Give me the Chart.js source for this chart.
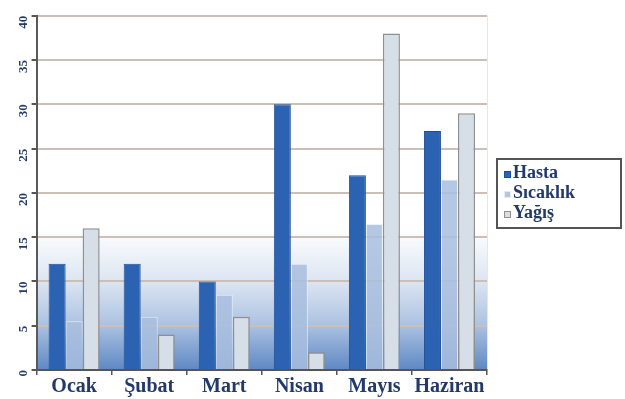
<!DOCTYPE html>
<html>
<head>
<meta charset="utf-8">
<script src="https://cdn.jsdelivr.net/npm/chart.js@4"></script>
<style>
  html, body { margin: 0; padding: 0; background: #fff; }
  #wrap { width: 625px; height: 399px; }
</style>
</head>
<body>
<div id="wrap"><canvas id="chart" width="625" height="399"></canvas></div>
<script>
// months on the x axis
var months = ['Ocak', 'Şubat', 'Mart', 'Nisan', 'Mayıs', 'Haziran'];
var seriesNames = ['Hasta', 'Sıcaklık', 'Yağış'];
// values
var hasta = [12, 12, 10, 30, 22, 27];
var sicaklik = [5.5, 6, 8.5, 12, 16.5, 21.5];
var yagis = [16, 4, 6, 2, 38, 29];
var yTicks = [0, 5, 10, 15, 20, 25, 30, 35, 40];

var navy = '#22396b';
var serif = '"Liberation Serif", "DejaVu Serif", serif';

// plot background gradient + thin frame
var backdrop = {
    id: 'backdrop',
    beforeDraw: function (chart) {
        var a = chart.chartArea, ctx = chart.ctx;
        var g = ctx.createLinearGradient(0, a.top, 0, a.bottom);
        g.addColorStop(0, '#ffffff');
        g.addColorStop(0.6, '#ffffff');
        g.addColorStop(0.75, '#dce5f2');
        g.addColorStop(0.87, '#adc3e2');
        g.addColorStop(1, '#5e88c4');
        ctx.save();
        ctx.fillStyle = g;
        ctx.fillRect(a.left, a.top, a.right - a.left, a.bottom - a.top);
        ctx.strokeStyle = '#e6e6e6';
        ctx.lineWidth = 1;
        ctx.strokeRect(a.left + 0.5, a.top + 0.5, a.right - a.left, a.bottom - a.top);
        ctx.restore();
    }
};

// boxed legend on the right
var boxLegend = {
    id: 'boxLegend',
    afterDraw: function (chart) {
        var ctx = chart.ctx;
        var x = 497, y = 159, w = 124, h = 69;
        ctx.save();
        ctx.fillStyle = '#ffffff';
        ctx.fillRect(x, y, w, h);
        ctx.strokeStyle = '#555555';
        ctx.lineWidth = 2;
        ctx.strokeRect(x, y, w, h);
        ctx.font = 'bold 18px ' + serif;
        ctx.textBaseline = 'middle';
        chart.data.datasets.forEach(function (ds, i) {
            var cy = y + 14 + i * 20;
            ctx.fillStyle = ds.backgroundColor;
            ctx.fillRect(x + 7, cy - 2, 7, 7);
            ctx.strokeStyle = ds.borderColor;
            ctx.lineWidth = 1;
            ctx.strokeRect(x + 7.5, cy - 1.5, 6, 6);
            ctx.fillStyle = navy;
            ctx.fillText(ds.label, x + 16, cy);
        });
        ctx.restore();
    }
};

new Chart(document.getElementById('chart'), {
    type: 'bar',
    data: {
        labels: months,
        datasets: [
            {
                label: seriesNames[0],
                data: hasta,
                backgroundColor: '#2b63b2',
                borderColor: '#1f4f94',
                borderWidth: 1
            },
            {
                label: seriesNames[1],
                data: sicaklik,
                backgroundColor: 'rgba(168,190,222,0.85)',
                borderColor: 'rgba(235,240,248,0.9)',
                borderWidth: 1
            },
            {
                label: seriesNames[2],
                data: yagis,
                backgroundColor: '#d6dee8',
                borderColor: '#8f8f8f',
                borderWidth: 1.5
            }
        ]
    },
    options: {
        responsive: false,
        animation: false,
        layout: { padding: { top: 10, right: 138, left: 0, bottom: 0 } },
        datasets: { bar: { categoryPercentage: 0.68, barPercentage: 1.0 } },
        plugins: {
            legend: { display: false },
            tooltip: { enabled: false }
        },
        scales: {
            x: {
                grid: {
                    display: true,
                    drawOnChartArea: false,
                    color: '#555555',
                    tickLength: 5,
                    lineWidth: 1.5
                },
                border: { color: '#555555', width: 2 },
                ticks: {
                    color: navy,
                    font: { family: serif, size: 20, weight: 'bold' },
                    padding: 0,
                    maxRotation: 0
                }
            },
            y: {
                min: 0,
                max: 40,
                afterBuildTicks: function (axis) {
                    axis.ticks = yTicks.map(function (v) { return { value: v }; });
                },
                grid: {
                    color: '#cbbfb8',
                    lineWidth: 2,
                    tickLength: 5,
                    tickColor: '#555555'
                },
                border: { color: '#5a5a5a', width: 2 },
                ticks: {
                    color: navy,
                    font: { family: serif, size: 13, weight: 'bold' },
                    minRotation: 90,
                    maxRotation: 90,
                    padding: 8
                }
            }
        }
    },
    plugins: [backdrop, boxLegend]
});
</script>
</body>
</html>
